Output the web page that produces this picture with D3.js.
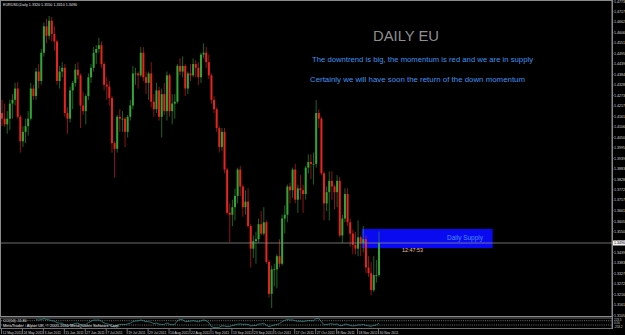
<!DOCTYPE html>
<html>
<head>
<meta charset="utf-8">
<script src="https://cdn.jsdelivr.net/npm/d3@7"></script>
<style>
  html, body { margin: 0; padding: 0; background: #000; }
  svg { display: block; }
  text { font-family: "Liberation Sans", "DejaVu Sans", sans-serif; }
</style>
</head>
<body>
<svg width="625" height="335"></svg>
<script>
// EURUSD daily bars, 12 May 2011 .. 30 Nov 2011
const dates = ["12 May","13 May","16 May","17 May","18 May","19 May","20 May","23 May","24 May","25 May","26 May","27 May","30 May","31 May",
  "1 Jun","2 Jun","3 Jun","6 Jun","7 Jun","8 Jun","9 Jun","10 Jun","13 Jun","14 Jun","15 Jun","16 Jun","17 Jun","20 Jun","21 Jun","22 Jun","23 Jun","24 Jun","27 Jun","28 Jun","29 Jun","30 Jun",
  "1 Jul","4 Jul","5 Jul","6 Jul","7 Jul","8 Jul","11 Jul","12 Jul","13 Jul","14 Jul","15 Jul","18 Jul","19 Jul","20 Jul","21 Jul","22 Jul","25 Jul","26 Jul","27 Jul","28 Jul","29 Jul",
  "1 Aug","2 Aug","3 Aug","4 Aug","5 Aug","8 Aug","9 Aug","10 Aug","11 Aug","12 Aug","15 Aug","16 Aug","17 Aug","18 Aug","19 Aug","22 Aug","23 Aug","24 Aug","25 Aug","26 Aug","29 Aug","30 Aug","31 Aug",
  "1 Sep","2 Sep","5 Sep","6 Sep","7 Sep","8 Sep","9 Sep","12 Sep","13 Sep","14 Sep","15 Sep","16 Sep","19 Sep","20 Sep","21 Sep","22 Sep","23 Sep","26 Sep","27 Sep","28 Sep","29 Sep","30 Sep",
  "3 Oct","4 Oct","5 Oct","6 Oct","7 Oct","10 Oct","11 Oct","12 Oct","13 Oct","14 Oct","17 Oct","18 Oct","19 Oct","20 Oct","21 Oct","24 Oct","25 Oct","26 Oct","27 Oct","28 Oct","31 Oct",
  "1 Nov","2 Nov","3 Nov","4 Nov","7 Nov","8 Nov","9 Nov","10 Nov","11 Nov","14 Nov","15 Nov","16 Nov","17 Nov","18 Nov","21 Nov","22 Nov","23 Nov","24 Nov","25 Nov","28 Nov","29 Nov","30 Nov"];

const open = [1.4180,1.4150,1.4120,1.4150,1.4230,1.4250,1.4310,1.4160,1.4030,1.4080,1.4110,1.4150,1.4310,1.4270,
  1.4400,1.4350,1.4500,1.4640,1.4590,1.4670,1.4600,1.4560,1.4350,1.4400,1.4420,1.4180,1.4150,1.4300,1.4340,1.4410,1.4380,1.4220,1.4190,1.4270,1.4370,1.4420,
  1.4500,1.4520,1.4540,1.4440,1.4330,1.4320,1.4260,1.4020,1.3990,1.4160,1.4150,1.4150,1.4080,1.4160,1.4220,1.4390,1.4390,1.4380,1.4500,1.4370,1.4340,
  1.4390,1.4240,1.4200,1.4300,1.4160,1.4280,1.4190,1.4380,1.4190,1.4230,1.4240,1.4430,1.4400,1.4430,1.4310,1.4390,1.4380,1.4440,1.4420,1.4370,1.4490,1.4500,1.4450,
  1.4380,1.4250,1.4200,1.4100,1.4000,1.4080,1.3880,1.3650,1.3640,1.3680,1.3740,1.3880,1.3790,1.3680,1.3710,1.3580,1.3460,1.3500,1.3510,1.3590,1.3540,1.3600,
  1.3390,1.3220,1.3350,1.3350,1.3420,1.3380,1.3620,1.3640,1.3790,1.3770,1.3880,1.3720,1.3780,1.3770,1.3750,1.3890,1.3920,1.3910,1.3910,1.4180,1.4150,
  1.3860,1.3700,1.3760,1.3820,1.3790,1.3760,1.3820,1.3530,1.3620,1.3750,1.3600,1.3540,1.3480,1.3460,1.3520,1.3490,1.3510,1.3360,1.3330,1.3240,1.3320,1.3320];
const high = [1.4250,1.4230,1.4190,1.4250,1.4280,1.4340,1.4345,1.4170,1.4110,1.4150,1.4190,1.4340,1.4330,1.4420,
  1.4440,1.4520,1.4660,1.4680,1.4695,1.4690,1.4640,1.4570,1.4430,1.4450,1.4440,1.4210,1.4320,1.4350,1.4440,1.4450,1.4390,1.4290,1.4280,1.4390,1.4440,1.4530,
  1.4540,1.4580,1.4560,1.4450,1.4370,1.4350,1.4270,1.4030,1.4170,1.4200,1.4190,1.4160,1.4170,1.4250,1.4430,1.4420,1.4400,1.4530,1.4530,1.4400,1.4400,
  1.4450,1.4280,1.4340,1.4320,1.4310,1.4340,1.4400,1.4390,1.4280,1.4280,1.4440,1.4470,1.4480,1.4440,1.4400,1.4440,1.4470,1.4460,1.4450,1.4500,1.4550,1.4530,1.4490,
  1.4390,1.4270,1.4210,1.4110,1.4100,1.4100,1.3890,1.3700,1.3720,1.3780,1.3890,1.3900,1.3800,1.3770,1.3780,1.3590,1.3530,1.3550,1.3620,1.3660,1.3680,1.3610,
  1.3400,1.3370,1.3380,1.3430,1.3510,1.3640,1.3690,1.3800,1.3810,1.3890,1.3910,1.3800,1.3850,1.3800,1.3900,1.3960,1.3960,1.3970,1.4248,1.4200,1.4160,
  1.3870,1.3790,1.3870,1.3870,1.3800,1.3850,1.3840,1.3640,1.3780,1.3780,1.3620,1.3560,1.3550,1.3610,1.3530,1.3580,1.3530,1.3420,1.3390,1.3420,1.3400,1.3550];
const low = [1.4110,1.4105,1.4070,1.4090,1.4150,1.4220,1.4150,1.3970,1.4000,1.4020,1.4060,1.4140,1.4250,1.4250,
  1.4310,1.4330,1.4480,1.4550,1.4570,1.4560,1.4510,1.4330,1.4310,1.4370,1.4160,1.4070,1.4130,1.4200,1.4320,1.4360,1.4100,1.4170,1.4120,1.4250,1.4340,1.4400,
  1.4440,1.4500,1.4420,1.4300,1.4250,1.4220,1.3970,1.3837,1.3970,1.4080,1.4080,1.4000,1.4050,1.4140,1.4200,1.4330,1.4310,1.4370,1.4350,1.4280,1.4250,
  1.4210,1.4160,1.4180,1.4140,1.4050,1.4170,1.4140,1.4160,1.4120,1.4150,1.4230,1.4380,1.4370,1.4270,1.4280,1.4350,1.4370,1.4370,1.4330,1.4340,1.4470,1.4420,1.4360,
  1.4230,1.4180,1.4080,1.3970,1.3980,1.3860,1.3640,1.3495,1.3580,1.3610,1.3700,1.3740,1.3630,1.3640,1.3570,1.3360,1.3410,1.3380,1.3490,1.3530,1.3530,1.3380,
  1.3200,1.3145,1.3260,1.3250,1.3360,1.3370,1.3540,1.3600,1.3700,1.3730,1.3700,1.3650,1.3720,1.3650,1.3720,1.3860,1.3830,1.3800,1.3890,1.4100,1.3850,
  1.3610,1.3660,1.3610,1.3720,1.3670,1.3680,1.3520,1.3490,1.3600,1.3580,1.3470,1.3430,1.3430,1.3420,1.3420,1.3440,1.3330,1.3310,1.3212,1.3230,1.3280,1.3310];
const close = [1.4150,1.4120,1.4150,1.4230,1.4250,1.4310,1.4160,1.4030,1.4080,1.4110,1.4150,1.4310,1.4270,1.4400,
  1.4350,1.4500,1.4640,1.4590,1.4670,1.4600,1.4560,1.4350,1.4400,1.4420,1.4180,1.4150,1.4300,1.4340,1.4410,1.4380,1.4220,1.4190,1.4270,1.4370,1.4420,1.4500,
  1.4520,1.4540,1.4440,1.4330,1.4320,1.4260,1.4020,1.3990,1.4160,1.4150,1.4150,1.4080,1.4160,1.4220,1.4390,1.4390,1.4380,1.4500,1.4370,1.4340,1.4390,
  1.4240,1.4200,1.4300,1.4160,1.4280,1.4190,1.4380,1.4190,1.4230,1.4240,1.4430,1.4400,1.4430,1.4310,1.4390,1.4380,1.4440,1.4420,1.4370,1.4490,1.4500,1.4450,1.4380,
  1.4250,1.4200,1.4100,1.4000,1.4080,1.3880,1.3650,1.3640,1.3680,1.3740,1.3880,1.3790,1.3680,1.3710,1.3580,1.3460,1.3500,1.3510,1.3590,1.3540,1.3600,1.3390,
  1.3220,1.3350,1.3350,1.3420,1.3380,1.3620,1.3640,1.3790,1.3770,1.3880,1.3720,1.3780,1.3770,1.3750,1.3890,1.3920,1.3910,1.3910,1.4180,1.4150,1.3860,
  1.3700,1.3760,1.3820,1.3790,1.3760,1.3820,1.3530,1.3620,1.3750,1.3600,1.3540,1.3480,1.3460,1.3520,1.3490,1.3510,1.3360,1.3330,1.3240,1.3320,1.3320,1.3490];

// bottom time axis labels (every 8th bar) and right price axis labels
const dateLabels = ["12 May 2011","24 May 2011","3 Jun 2011","15 Jun 2011","27 Jun 2011","7 Jul 2011","19 Jul 2011","29 Jul 2011","10 Aug 2011","22 Aug 2011",
  "1 Sep 2011","13 Sep 2011","23 Sep 2011","5 Oct 2011","17 Oct 2011","27 Oct 2011","8 Nov 2011","18 Nov 2011","30 Nov 2011"];
const priceTicks = [1.3105,1.3161,1.3216,1.3272,1.3327,1.3383,1.3439,1.3494,1.3550,1.3605,1.3661,1.3717,1.3772,1.3828,1.3883,1.3939,
  1.3995,1.4050,1.4106,1.4161,1.4217,1.4273,1.4328,1.4384,1.4439,1.4495,1.4551,1.4606,1.4662,1.4717,1.4773];

// supply zone drawn on the chart
const supplyTop = 1.3565, supplyBottom = 1.3463;
const supplyFrom = 137.4, supplyTo = 187.4;

const bars = dates.map((d, i) => ({ i, date: d, o: open[i], h: high[i], l: low[i], c: close[i] }));

const svg = d3.select("svg");
const axisX = 612;

const x = d3.scaleLinear().domain([0, 144]).range([2, 379]);
const y = d3.scaleLinear().domain([1.3145, 1.4695]).range([308, 16]);

// chart clip
svg.append("defs").append("clipPath").attr("id", "main")
  .append("rect").attr("x", 1).attr("y", 1).attr("width", axisX - 1).attr("height", 315);

const g = svg.append("g").attr("clip-path", "url(#main)");

// supply box
g.append("rect")
  .attr("x", x(supplyFrom)).attr("y", y(supplyTop))
  .attr("width", x(supplyTo) - x(supplyFrom))
  .attr("height", y(supplyBottom) - y(supplyTop))
  .attr("fill", "#0a0af0");

// candles
const up = "#33a535", down = "#e8231e";
const candle = g.selectAll("g.candle").data(bars).join("g").attr("class", "candle");
candle.append("line")
  .attr("x1", d => x(d.i)).attr("x2", d => x(d.i))
  .attr("y1", d => y(d.h)).attr("y2", d => y(d.l))
  .attr("stroke", d => d.c >= d.o ? up : down)
  .attr("stroke-opacity", 0.6)
  .attr("stroke-width", 1);
candle.append("rect")
  .attr("x", d => x(d.i) - 1)
  .attr("y", d => y(Math.max(d.o, d.c)))
  .attr("width", 2)
  .attr("height", d => Math.max(0.8, Math.abs(y(d.o) - y(d.c))))
  .attr("fill", d => d.c >= d.o ? up : down);

// bid line
const last = bars[bars.length - 1];
g.append("line")
  .attr("x1", 0).attr("x2", axisX)
  .attr("y1", y(last.c)).attr("y2", y(last.c))
  .attr("stroke", "#8a8a8a").attr("stroke-width", 0.8);

// frame
svg.append("rect").attr("x", 0.5).attr("y", 0.5).attr("width", axisX - 0.5).attr("height", 316)
  .attr("fill", "none").attr("stroke", "#8a8a8a").attr("stroke-width", 1);

// right price axis
const yAxis = svg.append("g");
yAxis.selectAll("line").data(priceTicks).join("line")
  .attr("x1", axisX).attr("x2", axisX + 1.5)
  .attr("y1", d => y(d)).attr("y2", d => y(d))
  .attr("stroke", "#bbb").attr("stroke-width", 0.6);
yAxis.selectAll("text").data(priceTicks).join("text")
  .attr("x", axisX + 2).attr("y", d => y(d) + 1.2)
  .attr("font-size", 3.6).attr("fill", "#d8d8d8")
  .text(d => d.toFixed(4));
svg.append("line").attr("x1", axisX + 0.5).attr("x2", axisX + 0.5).attr("y1", 0).attr("y2", 329)
  .attr("stroke", "#8a8a8a").attr("stroke-width", 1);

// bid price label
svg.append("rect").attr("x", axisX + 1).attr("y", y(last.c) - 2.5).attr("width", 12).attr("height", 5).attr("fill", "#f0f0f0");
svg.append("text").attr("x", axisX + 2).attr("y", y(last.c) + 1.2)
  .attr("font-size", 3.6).attr("fill", "#000").text(last.c.toFixed(4));

// header
svg.append("text").attr("x", 3).attr("y", 5.5)
  .attr("font-size", 3.7).attr("fill", "#e0e0e0")
  .text(`EURUSD,Daily  ${last.o.toFixed(4)} ${last.h.toFixed(4)} ${last.l.toFixed(4)} ${last.c.toFixed(4)}`);

// annotations
svg.append("text").attr("x", 373).attr("y", 41)
  .attr("font-size", 14).attr("fill", "#8f8f8f")
  .attr("textLength", 66).attr("lengthAdjust", "spacingAndGlyphs")
  .text("DAILY EU");
svg.append("text").attr("x", 312).attr("y", 61.5)
  .attr("font-family", "DejaVu Sans, sans-serif")
  .attr("font-size", 7.3).attr("fill", "#4292ec")
  .attr("textLength", 221).attr("lengthAdjust", "spacingAndGlyphs")
  .text("The downtrend is big, the momentum is red and we are in supply");
svg.append("text").attr("x", 310).attr("y", 81.5)
  .attr("font-family", "DejaVu Sans, sans-serif")
  .attr("font-size", 7.3).attr("fill", "#4292ec")
  .attr("textLength", 215).attr("lengthAdjust", "spacingAndGlyphs")
  .text("Certainly we will have soon the return of the down momentum");
svg.append("text").attr("x", 447).attr("y", 239.5)
  .attr("font-family", "DejaVu Sans, sans-serif")
  .attr("font-size", 7).attr("fill", "#4a8cff")
  .attr("textLength", 36).attr("lengthAdjust", "spacingAndGlyphs")
  .text("Daily Supply");
svg.append("text").attr("x", 402).attr("y", 251.5)
  .attr("font-family", "DejaVu Sans, sans-serif")
  .attr("font-size", 6).attr("fill", "#f2c08c")
  .attr("textLength", 21).attr("lengthAdjust", "spacingAndGlyphs")
  .text("12:47:53");

// CCI(14) sub-window
const cciTop = 318, cciBottom = 328.5;
const tp = bars.map(d => (d.h + d.l + d.c) / 3);
const cci = bars.map((d, i) => {
  if (i < 13) return null;
  const win = tp.slice(i - 13, i + 1);
  const m = d3.mean(win);
  const md = d3.mean(win, v => Math.abs(v - m));
  return (tp[i] - m) / (0.015 * md);
});
const yc = d3.scaleLinear().domain([-100, 100]).range([325, 320.7]);

svg.append("defs").append("clipPath").attr("id", "sub")
  .append("rect").attr("x", 1).attr("y", cciTop).attr("width", axisX - 1).attr("height", cciBottom - cciTop);
const sub = svg.append("g").attr("clip-path", "url(#sub)");
[100, -100].forEach(v => {
  sub.append("line").attr("x1", 1).attr("x2", axisX).attr("y1", yc(v)).attr("y2", yc(v))
    .attr("stroke", "#bdbdbd").attr("stroke-width", 0.6).attr("stroke-dasharray", "1,1.2");
});
sub.append("path")
  .datum(bars.filter((d, i) => cci[i] !== null))
  .attr("fill", "none").attr("stroke", "#3e9c94").attr("stroke-width", 0.7)
  .attr("d", d3.line().x(d => x(d.i)).y(d => yc(cci[d.i])));

svg.append("rect").attr("x", 0.5).attr("y", cciTop).attr("width", axisX - 0.5).attr("height", cciBottom - cciTop)
  .attr("fill", "none").attr("stroke", "#8a8a8a").attr("stroke-width", 0.8);

svg.append("text").attr("x", 3).attr("y", 321.6)
  .attr("font-size", 3.6).attr("fill", "#e0e0e0")
  .text(`CCI(14) ${cci[cci.length - 1].toFixed(2)}`);
svg.append("text").attr("x", 3).attr("y", 327.4)
  .attr("font-size", 4).attr("fill", "#e0e0e0")
  .text("MetaTrader - Alpari UK, \u00a9 2001-2011 MetaQuotes Software Corp.");

// sub-window scale labels
[["223.5", 319.8], ["0.00", 323.3], ["-253.2", 327]].forEach(([t, yy]) => {
  svg.append("text").attr("x", axisX + 2).attr("y", yy + 1)
    .attr("font-size", 3).attr("fill", "#d0d0d0").text(t);
});

// bottom time axis
const xAxis = svg.append("g");
xAxis.selectAll("line").data(dateLabels).join("line")
  .attr("x1", (d, k) => x(k * 8) - 0.5).attr("x2", (d, k) => x(k * 8) - 0.5)
  .attr("y1", 329).attr("y2", 334)
  .attr("stroke", "#bbb").attr("stroke-width", 0.6);
xAxis.selectAll("text").data(dateLabels).join("text")
  .attr("x", (d, k) => x(k * 8) + 0.5).attr("y", 333.5)
  .attr("font-size", 3.4).attr("fill", "#d8d8d8")
  .text(d => d);
</script>
</body>
</html>
